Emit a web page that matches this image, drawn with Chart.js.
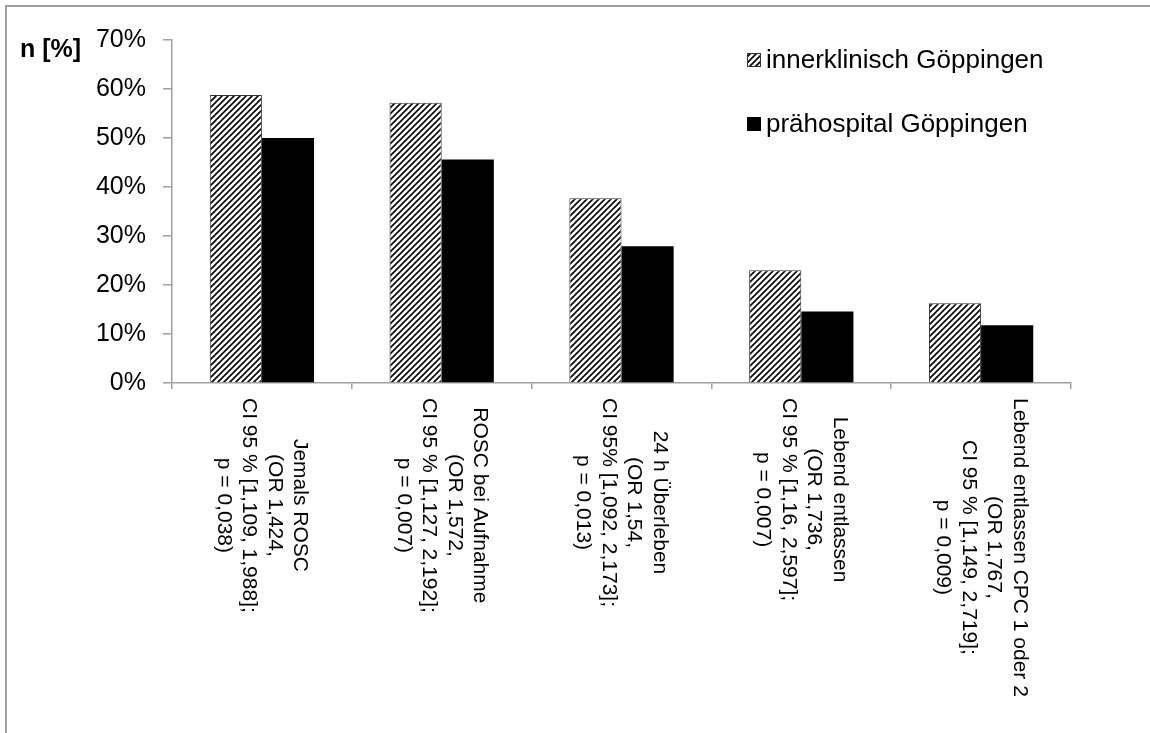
<!DOCTYPE html>
<html>
<head>
<meta charset="utf-8">
<script src="https://cdn.jsdelivr.net/npm/chart.js@4.4.1/dist/chart.umd.min.js"></script>
<style>
  html, body { margin: 0; padding: 0; background: #fff; }
  #wrap { width: 1150px; height: 733px; position: relative; }
</style>
</head>
<body>
<div id="wrap"><canvas id="chart" width="1150" height="733"></canvas></div>
<script>
// categories: each one is a list of label lines
const categories = [
  ["Jemals ROSC", "(OR 1,424,", "CI 95 % [1,109, 1,988];", "p = 0,038)"],
  ["ROSC bei Aufnahme", "(OR 1,572,", "CI 95 % [1,127, 2,192];", "p = 0,007)"],
  ["24 h Überleben", "(OR 1,54,", "CI 95% [1,092, 2,173];", "p = 0,013)"],
  ["Lebend entlassen", "(OR 1,736,", "CI 95 % [1,16, 2,597];", "p = 0,007)"],
  ["Lebend entlassen CPC 1 oder 2", "(OR 1,767,", "CI 95 % [1,149, 2,719];", "p = 0,009)"]
];
const seriesNames = ["innerklinisch Göppingen", "prähospital Göppingen"];
const innerklinisch = [58.8, 57.2, 37.7, 23.0, 16.3];
const praehospital = [50.0, 45.6, 27.9, 14.6, 11.8];
const yTicks = [0, 10, 20, 30, 40, 50, 60, 70];

const FONT = "'Liberation Sans', Arial, sans-serif";
const AXIS_GRAY = "#a0a0a0";

function makeHatch() {
  const c = document.createElement("canvas");
  c.width = 6; c.height = 6;
  const g = c.getContext("2d");
  g.fillStyle = "#fff";
  g.fillRect(0, 0, 6, 6);
  g.strokeStyle = "#000";
  g.lineWidth = 1.6;
  g.beginPath();
  g.moveTo(-1, 7); g.lineTo(7, -1);
  g.moveTo(-1, 1); g.lineTo(1, -1);
  g.moveTo(5, 7); g.lineTo(7, 5);
  g.stroke();
  return document.getElementById("chart").getContext("2d").createPattern(c, "repeat");
}
const hatch = makeHatch();

const framePlugin = {
  id: "frame",
  afterDraw(chart) {
    const ctx = chart.ctx;
    ctx.save();
    ctx.strokeStyle = AXIS_GRAY;
    ctx.lineWidth = 2;
    ctx.beginPath();
    ctx.moveTo(6, 733); ctx.lineTo(6, 6); ctx.lineTo(1150, 6);
    ctx.stroke();

    // axis caption
    ctx.fillStyle = "#000";
    ctx.font = "bold 25px " + FONT;
    ctx.textAlign = "left";
    ctx.textBaseline = "alphabetic";
    ctx.fillText("n [%]", 20, 57);

    // legend
    const legendY = [60, 124];
    chart.data.datasets.forEach((ds, i) => {
      const y = legendY[i];
      ctx.fillStyle = ds.backgroundColor;
      ctx.fillRect(747, y - 7, 14, 14);
      if (ds.borderWidth) {
        ctx.strokeStyle = "#333";
        ctx.lineWidth = 1;
        ctx.strokeRect(747.5, y - 6.5, 13, 13);
      }
      ctx.fillStyle = "#000";
      ctx.font = "26px " + FONT;
      ctx.textBaseline = "middle";
      ctx.fillText(ds.label, 766, y + 1);
    });

    // rotated category labels (clockwise)
    const xs = chart.scales.x;
    ctx.font = "21px " + FONT;
    ctx.fillStyle = "#000";
    ctx.textAlign = "center";
    ctx.textBaseline = "middle";
    const lh = 25.5;
    chart.data.labels.forEach((lines, i) => {
      const cx = xs.getPixelForValue(i);
      const longest = Math.max(...lines.map(l => ctx.measureText(l).width));
      ctx.save();
      ctx.translate(cx, 398);
      ctx.rotate(Math.PI / 2);
      lines.forEach((l, k) => {
        ctx.fillText(l, longest / 2, (k - (lines.length - 1) / 2) * lh);
      });
      ctx.restore();
    });
    ctx.restore();
  }
};

new Chart(document.getElementById("chart"), {
  type: "bar",
  data: {
    labels: categories,
    datasets: [
      { label: seriesNames[0], data: innerklinisch, backgroundColor: hatch, borderColor: "#333", borderWidth: 1 },
      { label: seriesNames[1], data: praehospital, backgroundColor: "#000", borderWidth: 0 }
    ]
  },
  options: {
    responsive: false,
    animation: false,
    layout: { padding: { left: 0, right: 79, top: 40, bottom: 344 } },
    datasets: { bar: { categoryPercentage: 0.58, barPercentage: 1 } },
    plugins: { legend: { display: false }, tooltip: { enabled: false } },
    scales: {
      x: {
        offset: true,
        grid: { display: true, offset: true, drawOnChartArea: false, drawTicks: true, tickLength: 6, color: AXIS_GRAY, lineWidth: 1.5 },
        border: { color: AXIS_GRAY, width: 1.5 },
        ticks: { display: false }
      },
      y: {
        min: 0, max: 70,
        afterFit(scale) { scale.width = 172; },
        afterBuildTicks(scale) { scale.ticks = yTicks.map(v => ({ value: v })); },
        grid: { display: true, drawOnChartArea: false, drawTicks: true, tickLength: 9, color: AXIS_GRAY, lineWidth: 1.5 },
        border: { color: AXIS_GRAY, width: 1.5 },
        ticks: {
          padding: 17,
          color: "#000",
          font: { family: FONT, size: 25 },
          callback: v => v + "%"
        }
      }
    }
  },
  plugins: [framePlugin]
});
</script>
</body>
</html>
